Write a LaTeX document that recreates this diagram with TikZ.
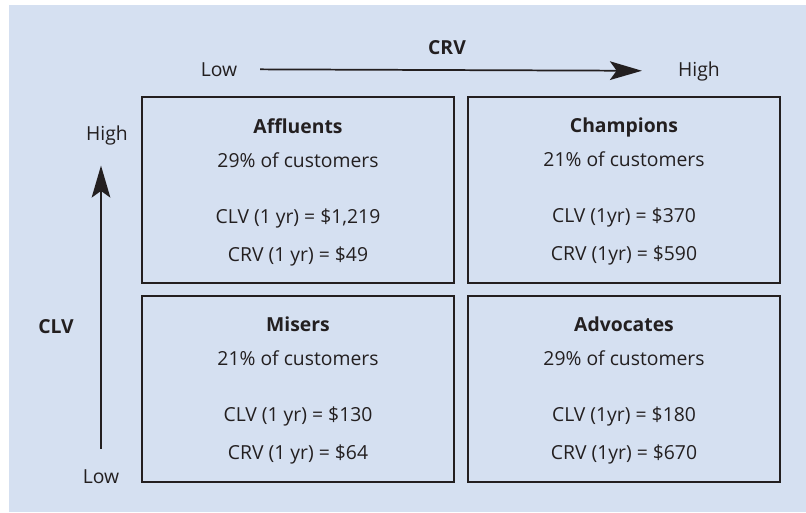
\documentclass[tikz,border=0pt]{standalone}
\usepackage{fontspec}
\setmainfont{Open Sans}
\usetikzlibrary{arrows.meta}
\definecolor{bgblue}{RGB}{213,224,241}
\definecolor{ink}{RGB}{35,31,32}
\begin{document}
\begin{tikzpicture}[x=0.75pt, y=-0.75pt,
        every node/.style={inner sep=0pt, text=ink, font=\fontsize{14.5}{17.5}\selectfont},
        quad/.style={draw=ink, line width=1.6pt, minimum width=234pt, minimum height=139.5pt},
        quadtxt/.style={anchor=north, align=center},
        axis/.style={draw=ink, line width=1.3pt, -{Stealth[length=24pt, width=14pt, inset=5pt]}}]
        \useasboundingbox (0, 0) rectangle (806, 512);
        \fill[bgblue] (9, 5) rectangle (806, 512);

        % Quadrants
        \node[quad] (aff) at (298, 190) {};
        \node[quad] (cha) at (624, 190) {};
        \node[quad] (mis) at (298, 389) {};
        \node[quad] (adv) at (624, 389) {};

        \node[quadtxt] (aff-txt) at ([yshift=-16.5pt]aff.north) {\textbf{Affluents}\\[8pt]29\% of customers\\[24.5pt]CLV (1 yr) = \$1,219\\[11pt]CRV (1 yr) = \$49};
        \node[quadtxt] (cha-txt) at ([yshift=-16.5pt]cha.north) {\textbf{Champions}\\[8pt]21\% of customers\\[24.5pt]CLV (1yr) = \$370\\[11pt]CRV (1yr) = \$590};
        \node[quadtxt] (mis-txt) at ([yshift=-16.5pt]mis.north) {\textbf{Misers}\\[8pt]21\% of customers\\[24.5pt]CLV (1 yr) = \$130\\[11pt]CRV (1 yr) = \$64};
        \node[quadtxt] (adv-txt) at ([yshift=-16.5pt]adv.north) {\textbf{Advocates}\\[8pt]29\% of customers\\[24.5pt]CLV (1yr) = \$180\\[11pt]CRV (1yr) = \$670};

        % CRV axis
        \node[anchor=base] (crv) at (447, 54) {\textbf{CRV}};
        \node[anchor=base] (crvlow) at (219, 76) {Low};
        \node[anchor=base] (crvhigh) at (699, 76) {High};
        \draw[axis, shorten <=17pt, shorten >=27pt] (crvlow) -- (crvhigh);

        % CLV axis
        \node[anchor=base] (clv) at (56, 333) {\textbf{CLV}};
        \node[anchor=base] (clvhigh) at (107, 140) {High};
        \node[anchor=base] (clvlow) at (101, 483) {Low};
        \draw[axis, shorten <=15pt, shorten >=15.5pt] (clvlow.north) -- (clvlow.north |- clvhigh.south);
    \end{tikzpicture}
\end{document}
